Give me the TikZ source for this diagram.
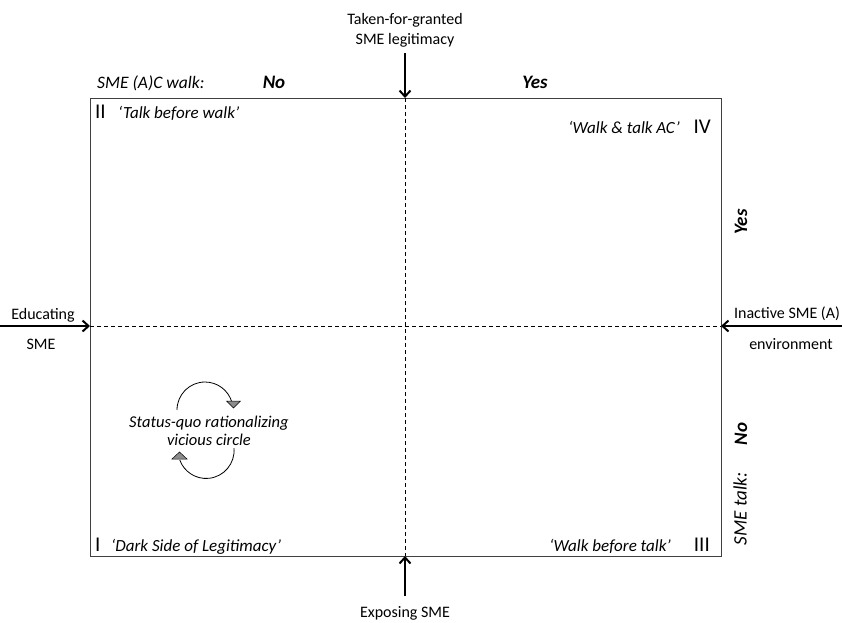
\documentclass[tikz,border=0pt]{standalone}
\usepackage{fontspec}
\setmainfont{Carlito}
\usetikzlibrary{arrows.meta}
\begin{document}
\begin{tikzpicture}[x=1pt,y=-1pt,
  lbl/.style={inner sep=0pt,font=\fontsize{16}{20}\selectfont},
  qlbl/.style={inner sep=0pt,font=\fontsize{17}{20}\selectfont\itshape},
  clbl/.style={inner sep=0pt,font=\fontsize{16.5}{18.5}\selectfont\itshape,align=center},
  axlbl/.style={inner sep=0pt,font=\fontsize{17.5}{20}\selectfont\itshape},
  axval/.style={inner sep=0pt,font=\fontsize{19}{20}\selectfont\bfseries\itshape},
  roman/.style={inner sep=0pt,font=\fontsize{21}{21}\selectfont},
  frame/.style={draw=black!75,line width=0.9pt},
  axis/.style={draw=black,line width=0.7pt,dash pattern=on 4pt off 3pt},
  push/.style={draw=black,line width=2.6pt,-{Straight Barb[length=6pt,width=11pt,line width=2pt]}},
  cyc/.style={draw=black,line width=0.8pt},
  tri/.style={fill=black!45,draw=black,line width=0.5pt}
]
\useasboundingbox (0,0) rectangle (842,622);

% quadrant frame and axes
\draw[frame] (90,98) rectangle (721,556);
\coordinate (top) at (405,98);
\coordinate (bot) at (405,556);
\coordinate (lft) at (90,326);
\coordinate (rgt) at (721,326);
\draw[axis] (top) -- (bot);
\draw[axis] (lft) -- (rgt);

% external pressures
\node[lbl,anchor=base] (tfg1) at (405,24) {Taken-for-granted};
\node[lbl,anchor=base] (tfg2) at (405,44) {SME legitimacy};
\coordinate (tfgend) at (405,53);
\draw[push] (tfgend) -- (top);

\node[lbl,anchor=base] (expo) at (405,617) {Exposing SME};
\coordinate (expoend) at (405,596);
\draw[push] (expoend) -- (bot);

\node[lbl,anchor=base] (edu1) at (43,319) {Educating};
\node[lbl,anchor=base] (edu2) at (41,349) {SME};
\coordinate (eduend) at (0,326);
\draw[push] (eduend) -- (lft);

\node[lbl,anchor=base] (ina1) at (787,318) {Inactive SME (A)};
\node[lbl,anchor=base] (ina2) at (791,349) {environment};
\coordinate (inaend) at (842,326);
\draw[push] (inaend) -- (rgt);

% walk axis labels
\node[axlbl,anchor=base west] (walk) at (97,88) {SME (A)C walk:};
\node[axval,anchor=base] (walkno) at (274,88) {No};
\node[axval,anchor=base] (walkyes) at (535,88) {Yes};

% talk axis labels
\node[axval,rotate=90] (talkyes) at (741,222) {Yes};
\node[axval,rotate=90] (talkno) at (741,434) {No};
\node[axlbl,font=\fontsize{19}{20}\selectfont\itshape,rotate=90] (talk) at (740,509) {SME talk:};

% quadrant names
\node[roman,anchor=base west] (q2) at (95,118) {II};
\node[qlbl,anchor=base west] (q2t) at (118,118) {‘Talk before walk’};
\node[roman,anchor=base east] (q4) at (711,133) {IV};
\node[qlbl,anchor=base east] (q4t) at (680,133) {‘Walk \& talk AC’};
\node[roman,anchor=base west] (q1) at (95,551) {I};
\node[qlbl,anchor=base west] (q1t) at (111,551) {‘Dark Side of Legitimacy’};
\node[roman,anchor=base east] (q3) at (710,551) {III};
\node[qlbl,anchor=base east] (q3t) at (671,551) {‘Walk before talk’};

% vicious circle
\node[clbl,anchor=base] (circ1) at (209,427) {Status-quo rationalizing};
\node[clbl,anchor=base] (circ2) at (209,445) {vicious circle};
\draw[cyc] (177,410) arc[start angle=180,end angle=344,radius=28] coordinate (c1);
\draw[tri] (226.5,401) -- (240.5,401) -- (233.5,408) -- cycle;
\draw[cyc] (234,448) arc[start angle=-5,end angle=160,radius=28] coordinate (c2);
\draw[tri] (172,459) -- (187,459) -- (179.5,452) -- cycle;
\end{tikzpicture}
\end{document}
